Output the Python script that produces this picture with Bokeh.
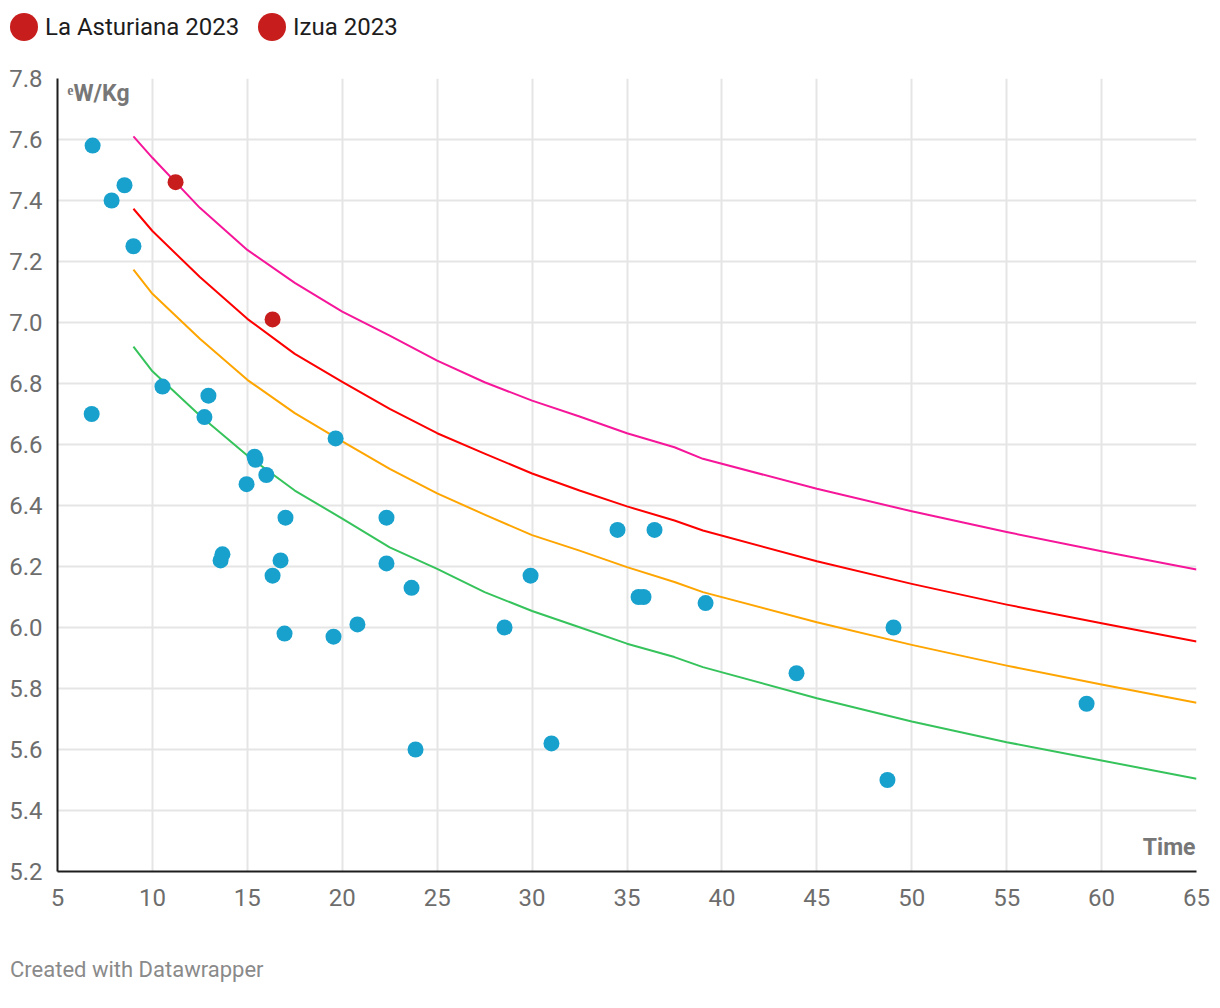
from bokeh.plotting import figure
from bokeh.models import Range1d, Label, NumeralTickFormatter, Div
from bokeh.layouts import column
from bokeh.embed import file_html
from bokeh.resources import INLINE

FONT = "Roboto"

# ---------------- data ----------------
x_ticks = [5, 10, 15, 20, 25, 30, 35, 40, 45, 50, 55, 60, 65]
y_ticks = [5.2, 5.4, 5.6, 5.8, 6.0, 6.2, 6.4, 6.6, 6.8, 7.0, 7.2, 7.4, 7.6, 7.8]

curve_time = [9, 10, 12.5, 15, 17.5, 20, 22.5, 25, 27.5, 30, 32.5, 35, 37.5, 39,
              45, 50, 55, 60, 65]
curve_pink = [7.61, 7.54, 7.376, 7.238, 7.13, 7.036, 6.957, 6.875, 6.804, 6.744, 6.692, 6.637, 6.591, 6.553,
              6.455, 6.381, 6.313, 6.25, 6.19]
curve_red = [7.373, 7.30, 7.149, 7.012, 6.897, 6.805, 6.717, 6.637, 6.570, 6.505, 6.449, 6.397, 6.351, 6.318,
             6.217, 6.143, 6.075, 6.014, 5.954]
curve_orange = [7.173, 7.094, 6.947, 6.812, 6.703, 6.61, 6.520, 6.440, 6.370, 6.303, 6.252, 6.198, 6.149, 6.116,
                6.017, 5.943, 5.875, 5.813, 5.753]
curve_green = [6.921, 6.840, 6.695, 6.564, 6.449, 6.357, 6.263, 6.192, 6.116, 6.054, 6.001, 5.947, 5.903, 5.870,
               5.768, 5.692, 5.624, 5.564, 5.504]

blue_time = [6.85, 7.85, 8.53, 9.0, 6.8, 10.53, 12.95, 12.74, 15.38, 15.43, 16.0, 14.96,
             19.65, 17.01, 13.69, 13.59, 16.75, 16.33, 16.96, 19.54, 20.8, 22.33, 22.33,
             23.65, 23.86, 28.55, 29.92, 31.02, 34.5, 36.45, 35.61, 35.87, 39.14, 43.93,
             49.04, 59.21, 48.72]
blue_wkg = [7.58, 7.40, 7.45, 7.25, 6.70, 6.79, 6.76, 6.69, 6.56, 6.55, 6.50, 6.47,
            6.62, 6.36, 6.24, 6.22, 6.22, 6.17, 5.98, 5.97, 6.01, 6.36, 6.21,
            6.13, 5.60, 6.00, 6.17, 5.62, 6.32, 6.32, 6.10, 6.10, 6.08, 5.85,
            6.00, 5.75, 5.50]

asturiana_time = [11.22]
asturiana_wkg = [7.46]
izua_time = [16.33]
izua_wkg = [7.01]

legend_labels = ["La Asturiana 2023", "Izua 2023"]
y_title = "ᵉW/Kg"
x_title = "Time"
footer = "Created with Datawrapper"

# ---------------- styles ----------------
BLUE = "#18a1cd"
DARKRED = "#c71e1d"
PINK = "#f5169a"
RED = "#ff0000"
ORANGE = "#ffa500"
GREEN = "#36c35c"
GRID = "#e5e5e5"
AXIS = "#1d1d1d"
TICK_TEXT = "#6d6d6d"

# ---------------- legend (HTML) ----------------
leg_circle_left = [10, 258]
parts = []
for cx, lab in zip(leg_circle_left, legend_labels):
    parts.append(
        f'<span style="position:absolute;left:{cx}px;top:13px;width:28px;height:28px;'
        f'border-radius:50%;background:{DARKRED};"></span>'
        f'<span style="position:absolute;left:{cx + 35}px;top:13px;line-height:28px;'
        f'white-space:nowrap;">{lab}</span>'
    )
legend_html = (
    '<div style="position:relative;width:1212px;height:48px;font-family:Roboto,sans-serif;'
    'font-size:24px;color:#1d1d1d;">' + "".join(parts) + "</div>"
)
leg = Div(text=legend_html, width=1212, height=48, margin=0)

# ---------------- main chart ----------------
p = figure(width=1212, height=883, x_range=Range1d(5, 65), y_range=Range1d(5.2, 7.8),
           toolbar_location=None, output_backend="svg",
           min_border_left=57, min_border_right=16, min_border_top=30, min_border_bottom=60)
p.outline_line_color = None
p.background_fill_color = "white"
p.border_fill_color = "white"

p.xaxis.ticker = x_ticks
p.yaxis.ticker = y_ticks
p.xaxis.formatter = NumeralTickFormatter(format="0")
p.yaxis.formatter = NumeralTickFormatter(format="0.0")
for ax in (p.xaxis[0], p.yaxis[0]):
    ax.axis_line_color = AXIS
    ax.axis_line_width = 2
    ax.major_tick_line_color = None
    ax.minor_tick_line_color = None
    ax.major_label_text_font = FONT
    ax.major_label_text_font_size = "24px"
    ax.major_label_text_color = TICK_TEXT
p.xaxis.major_label_standoff = 11
p.yaxis.major_label_standoff = 9

p.xgrid.grid_line_color = GRID
p.ygrid.grid_line_color = GRID
p.xgrid.grid_line_width = 2
p.ygrid.grid_line_width = 2

for ys, col in ((curve_pink, PINK), (curve_red, RED), (curve_orange, ORANGE), (curve_green, GREEN)):
    p.line(curve_time, ys, line_color=col, line_width=2, line_join="round")

p.scatter(blue_time, blue_wkg, size=16, fill_color=BLUE, line_color=None)
p.scatter(asturiana_time, asturiana_wkg, size=16, fill_color=DARKRED, line_color=None)
p.scatter(izua_time, izua_wkg, size=16, fill_color=DARKRED, line_color=None)

p.add_layout(Label(x=5, y=7.8, x_offset=10, y_offset=-1, text=y_title,
                   text_font=FONT, text_font_size="23px", text_font_style="bold",
                   text_color="#777777", text_baseline="top", text_align="left"))
p.add_layout(Label(x=65, y=5.2, x_offset=-1, y_offset=11, text=x_title,
                   text_font=FONT, text_font_size="23px", text_font_style="bold",
                   text_color="#777777", text_baseline="bottom", text_align="right"))

# ---------------- footer (HTML) ----------------
footer_html = (
    '<div style="position:relative;width:1212px;height:70px;font-family:Roboto,sans-serif;'
    'font-size:22px;color:#8a8a8a;">'
    f'<span style="position:absolute;left:10px;top:27px;line-height:24px;white-space:nowrap;">{footer}</span>'
    "</div>"
)
foot = Div(text=footer_html, width=1212, height=70, margin=0)

layout = column(leg, p, foot, spacing=0)
open("out.html", "w").write(file_html(layout, INLINE))
